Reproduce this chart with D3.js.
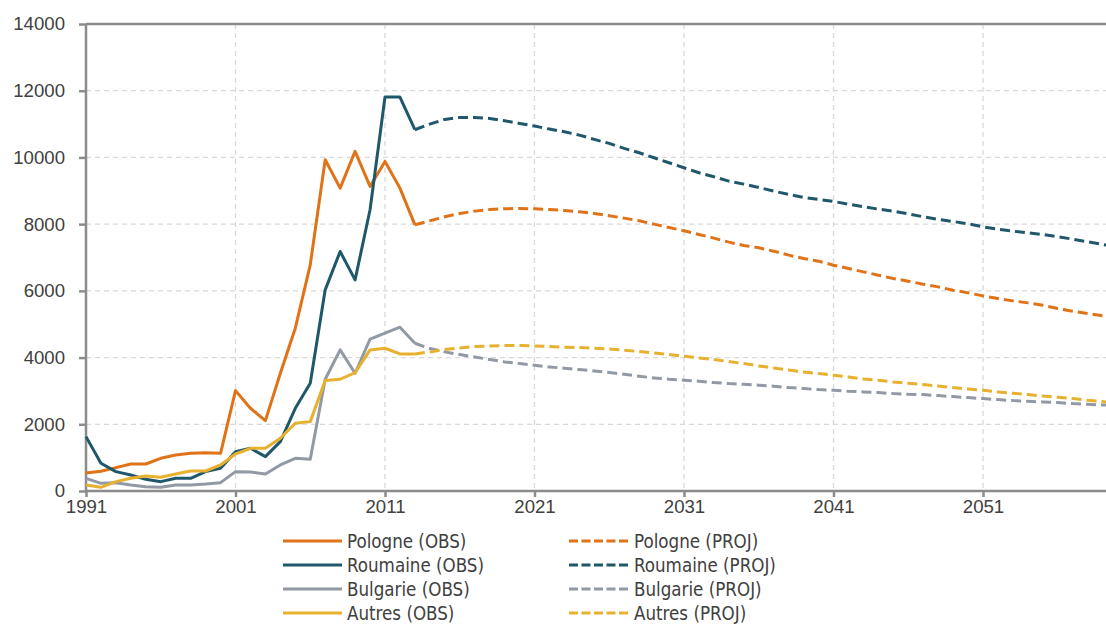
<!DOCTYPE html>
<html>
<head>
<meta charset="utf-8">
<script src="https://cdn.jsdelivr.net/npm/d3@7"></script>
<style>
  html, body { margin: 0; padding: 0; background: #fff; }
  svg { display: block; font-family: "DejaVu Sans Condensed", "DejaVu Sans", sans-serif; font-stretch: condensed; }
</style>
</head>
<body>
<div id="root"></div>
<script>
// observed years 1991-2013, projections 2013-2060
const obsYears = d3.range(1991, 2014);
const projYears = d3.range(2013, 2061);
const yTicks = [0, 2000, 4000, 6000, 8000, 10000, 12000, 14000];
const xTicks = [1991, 2001, 2011, 2021, 2031, 2041, 2051];

const polObs = [540, 590, 700, 810, 810, 980, 1080, 1130, 1150, 1130, 3010, 2480, 2110, 3530, 4880, 6780, 9930, 9080, 10180, 9130, 9880, 9080, 7980];
const rouObs = [1630, 830, 580, 480, 350, 280, 380, 380, 580, 680, 1180, 1280, 1030, 1480, 2480, 3230, 6030, 7180, 6330, 8430, 11810, 11810, 10830];
const bulObs = [380, 230, 250, 180, 130, 110, 180, 180, 210, 250, 580, 570, 510, 780, 980, 950, 3350, 4230, 3530, 4550, 4730, 4910, 4430];
const autObs = [180, 110, 280, 380, 450, 410, 510, 600, 600, 780, 1110, 1280, 1280, 1580, 2030, 2080, 3310, 3350, 3550, 4230, 4280, 4110, 4110];

const polProj = [7980, 8100, 8220, 8320, 8390, 8440, 8460, 8470, 8460, 8440,
  8410, 8370, 8320, 8250, 8180, 8100, 8000, 7900, 7800,
  7690, 7580, 7460, 7360, 7290, 7190, 7070, 6970, 6890,
  6770, 6670, 6570, 6470, 6370, 6290, 6200, 6120, 6020, 5940,
  5850, 5770, 5700, 5640, 5570, 5470, 5390, 5320, 5250, 5180];
const rouProj = [10830, 11000, 11140, 11200, 11200, 11170, 11100, 11020, 10940, 10850,
  10770, 10670, 10540, 10420, 10270, 10140, 9990, 9840, 9690,
  9540, 9420, 9290, 9200, 9100, 8990, 8890, 8800, 8740,
  8680, 8600, 8520, 8450, 8390, 8310, 8220, 8140, 8080, 8010,
  7920, 7850, 7790, 7740, 7690, 7620, 7550, 7470, 7390, 7320];
const bulProj = [4430, 4270, 4170, 4090, 4020, 3940, 3870, 3820, 3770, 3720,
  3680, 3640, 3600, 3550, 3500, 3440, 3390, 3350, 3320,
  3290, 3250, 3220, 3200, 3170, 3140, 3100, 3070, 3040,
  3020, 2990, 2970, 2950, 2920, 2900, 2890, 2860, 2830, 2800,
  2770, 2740, 2710, 2690, 2670, 2650, 2620, 2600, 2580, 2560];
const autProj = [4110, 4170, 4240, 4290, 4330, 4350, 4360, 4360, 4350, 4330,
  4310, 4300, 4280, 4260, 4220, 4180, 4140, 4090, 4040,
  3990, 3940, 3880, 3820, 3750, 3690, 3630, 3570, 3520,
  3470, 3420, 3360, 3320, 3270, 3230, 3190, 3150, 3100, 3060,
  3020, 2970, 2930, 2890, 2850, 2810, 2770, 2720, 2680, 2640];

const names = ['Pologne', 'Roumaine', 'Bulgarie', 'Autres'];
const colors = ['#e07218', '#1f586b', '#9199a4', '#e7b12f'];
const obsSeries = [polObs, rouObs, bulObs, autObs];
const projSeries = [polProj, rouProj, bulProj, autProj];

const W = 1106, H = 624;
const plotLeft = 86, plotTop = 24, plotBottom = 491;
const textColor = '#404040';
const axisColor = '#8c8c8c';
const fontSize = '18.6px';

const svg = d3.select('#root').append('svg').attr('width', W).attr('height', H);

const x = d3.scaleLinear().domain([1991, 2060]).range([plotLeft, plotLeft + 69 * 14.95]);
const y = d3.scaleLinear().domain([0, 14000]).range([plotBottom, plotTop]);

// grid
svg.append('g')
  .selectAll('line')
  .data(yTicks.filter(d => d > 0 && d < 14000))
  .join('line')
  .attr('x1', plotLeft).attr('x2', W)
  .attr('y1', d => y(d)).attr('y2', d => y(d))
  .attr('stroke', '#d9d9d9').attr('stroke-width', 1.3).attr('stroke-dasharray', '5,4');

svg.append('g')
  .selectAll('line')
  .data(xTicks.filter(d => d > 1991))
  .join('line')
  .attr('x1', d => x(d)).attr('x2', d => x(d))
  .attr('y1', plotTop).attr('y2', plotBottom)
  .attr('stroke', '#d9d9d9').attr('stroke-width', 1.3).attr('stroke-dasharray', '5,4');

// top border
svg.append('line')
  .attr('x1', plotLeft).attr('x2', W).attr('y1', y(14000)).attr('y2', y(14000))
  .attr('stroke', axisColor).attr('stroke-width', 2.5);

// axes
const yAxis = svg.append('g')
  .attr('transform', `translate(${plotLeft},0)`)
  .call(d3.axisLeft(y).tickValues(yTicks).tickSize(7).tickPadding(14).tickFormat(d3.format('d')));
const xAxis = svg.append('g')
  .attr('transform', `translate(0,${plotBottom})`)
  .call(d3.axisBottom(x).tickValues(xTicks).tickSize(6).tickPadding(3).tickFormat(d3.format('d')));

[yAxis, xAxis].forEach(a => {
  a.select('.domain').attr('stroke', axisColor).attr('stroke-width', 2.5);
  a.selectAll('.tick line').attr('stroke', axisColor).attr('stroke-width', 2.5);
  a.selectAll('.tick text').attr('fill', textColor).style('font-size', fontSize);
});
yAxis.select('.domain').attr('d', `M0,${plotBottom}V${plotTop}`);
xAxis.select('.domain').attr('d', `M${plotLeft},0H${W}`);

// lines
const line = d3.line().x(d => x(d[0])).y(d => y(d[1]));
const plot = svg.append('g');

names.forEach((n, i) => {
  plot.append('path')
    .datum(obsYears.map((yr, j) => [yr, obsSeries[i][j]]))
    .attr('d', line)
    .attr('fill', 'none').attr('stroke', colors[i]).attr('stroke-width', 3)
    .attr('stroke-linejoin', 'round');
});
names.forEach((n, i) => {
  plot.append('path')
    .datum(projYears.map((yr, j) => [yr, projSeries[i][j]]))
    .attr('d', line)
    .attr('fill', 'none').attr('stroke', colors[i]).attr('stroke-width', 3)
    .attr('stroke-dasharray', '10,5');
});

// legend
const legend = svg.append('g');
const rowY = [541, 565, 589, 613];
names.forEach((n, i) => {
  legend.append('line')
    .attr('x1', 283).attr('x2', 342).attr('y1', rowY[i]).attr('y2', rowY[i])
    .attr('stroke', colors[i]).attr('stroke-width', 3);
  legend.append('text')
    .attr('x', 347).attr('y', rowY[i] + 6.5)
    .attr('fill', textColor).style('font-size', fontSize)
    .text(`${n} (OBS)`);
  legend.append('line')
    .attr('x1', 569).attr('x2', 628).attr('y1', rowY[i]).attr('y2', rowY[i])
    .attr('stroke', colors[i]).attr('stroke-width', 3).attr('stroke-dasharray', '9,3.5');
  legend.append('text')
    .attr('x', 634).attr('y', rowY[i] + 6.5)
    .attr('fill', textColor).style('font-size', fontSize)
    .text(`${n} (PROJ)`);
});
</script>
</body>
</html>
